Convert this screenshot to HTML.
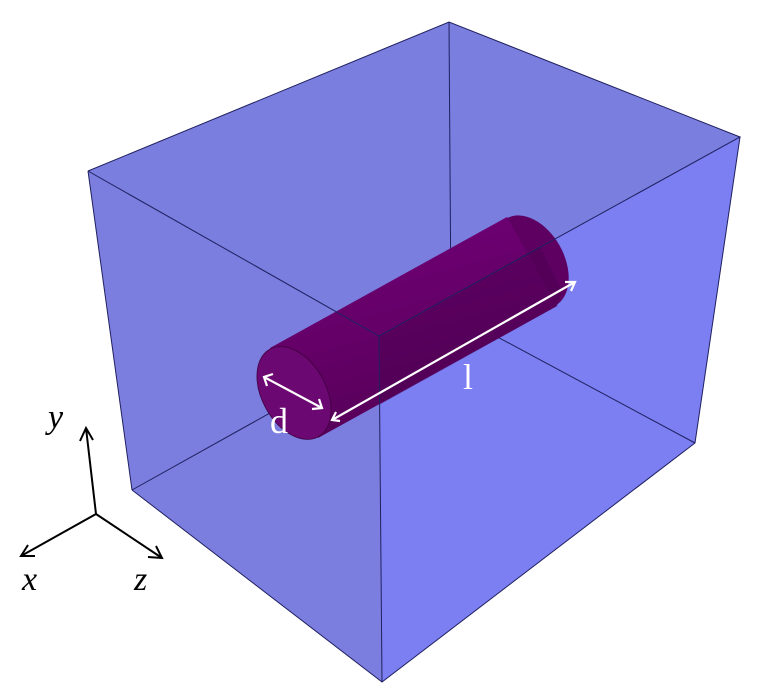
<!DOCTYPE html>
<html><head><meta charset="utf-8"><style>
html,body{margin:0;padding:0;background:#fff;width:779px;height:693px;overflow:hidden}
svg{display:block}
text{font-family:"Liberation Serif","Times New Roman",serif}
</style></head><body>
<svg width="779" height="693" viewBox="0 0 779 693">
<defs>
<linearGradient id="cyl" x1="0" y1="0" x2="0.35" y2="1">
<stop offset="0" stop-color="#72007a"/><stop offset="0.55" stop-color="#650068"/><stop offset="1" stop-color="#560058"/>
</linearGradient>
</defs>
<g>
<polygon points="88,171 449,22 740,137 695,443 382,682 132,490" fill="#7b7fee"/>
<polygon points="88,171 379,336 382,682 132,490" fill="#7b7ede"/>
<polygon points="88,171 449,22 740,137 379,336" fill="#7a7edf"/>
<polygon points="379,336 740,137 695,443 382,682" fill="#7b7ff1" opacity="0.9"/>
<g stroke="#202060" stroke-width="1" fill="none">
<line x1="449" y1="22" x2="451" y2="312"/>
<line x1="132" y1="490" x2="451" y2="312"/>
<line x1="695" y1="443" x2="451" y2="312"/>
</g>
</g>
<g>
<ellipse cx="531" cy="262" rx="33" ry="50" transform="rotate(-29 531 262)" fill="#5e0062"/>
<polygon points="270,348 507,217 557,306 318,438" fill="url(#cyl)"/>
<polygon points="379,336 540,246 562,292 557,306 379,405" fill="#4a0050" opacity="0.45"/>
<ellipse cx="294" cy="393" rx="32" ry="50" transform="rotate(-29 294 393)" fill="#6c0872" stroke="#40003f" stroke-width="0.8"/>
</g>
<g stroke="#202060" stroke-width="1" fill="none">
<polyline points="88,171 449,22 740,137 379,336 88,171"/>
<line x1="379" y1="336" x2="382" y2="682"/>
<line x1="88" y1="171" x2="132" y2="490"/>
<line x1="740" y1="137" x2="695" y2="443"/>
<polyline points="132,490 382,682 695,443"/>
</g>
<g stroke="#fff" stroke-width="2.2" fill="none">
<line x1="264" y1="377" x2="322" y2="408"/>
<polyline points="273,374 264,377 267,386" />
<polyline points="312,409 322,408 319,399" />
<line x1="332" y1="420" x2="575" y2="282"/>
<polyline points="340,421 332,420 336,412"/>
<polyline points="565,282 575,282 571,291"/>
</g>
<text x="270" y="433" font-size="36" fill="#fff">d</text>
<text x="463" y="389" font-size="36" fill="#fff">l</text>
<g stroke="#000" stroke-width="2" fill="none">
<line x1="96" y1="514" x2="86" y2="428"/>
<polyline points="80,441 86,428 93,440"/>
<line x1="96" y1="514" x2="21" y2="556"/>
<polyline points="28,545 21,556 35,556"/>
<line x1="96" y1="514" x2="162" y2="558"/>
<polyline points="148,557 162,558 156,546"/>
</g>
<text x="48" y="428" font-size="34" font-style="italic">y</text>
<text x="22" y="590" font-size="34" font-style="italic">x</text>
<text x="134" y="590" font-size="34" font-style="italic">z</text>
</svg>
</body></html>
